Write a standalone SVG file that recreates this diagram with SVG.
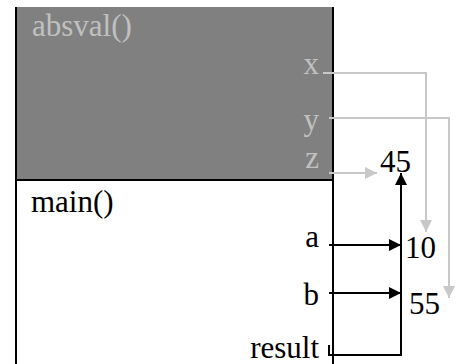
<svg xmlns="http://www.w3.org/2000/svg" width="466" height="364" viewBox="0 0 466 364">
<defs>
<style>
text{font-family:'Liberation Serif','Times New Roman',serif;font-size:31px}
.lt{fill:#c0c0c0}
.dk{fill:#000}
.r{text-anchor:end}
.g{stroke:#c8c8c8;stroke-width:2;fill:none}
.b{stroke:#000;stroke-width:2;fill:none}
</style>
<marker id="ag" markerWidth="12" markerHeight="12" refX="10" refY="5" orient="auto" markerUnits="userSpaceOnUse" viewBox="0 0 10 10">
<path d="M0,0 L10,5 L0,10 z" fill="#c8c8c8"/>
</marker>
<marker id="ab" markerWidth="12" markerHeight="12" refX="10" refY="5" orient="auto" markerUnits="userSpaceOnUse" viewBox="0 0 10 10">
<path d="M0,0 L10,5 L0,10 z" fill="#000"/>
</marker>
</defs>
<rect width="466" height="364" fill="#fff"/>
<g id="absval">
<rect x="16" y="7" width="317" height="173" fill="#808080"/>
<path d="M16,7 V180 H333 V7" class="b"/>
<text x="32" y="36" class="lt">absval()</text>
<text x="319" y="74" class="lt r">x</text>
<text x="319" y="130" class="lt r">y</text>
<text x="319" y="168" class="lt r">z</text>
</g>
<g id="main">
<path d="M16,180 V364 M333,180 V364" class="b"/>
<text x="31" y="212" class="dk">main()</text>
<text x="319" y="247" class="dk r">a</text>
<text x="319" y="305" class="dk r">b</text>
<text x="319" y="358" class="dk r">result</text>
</g>
<g id="values">
<text x="380" y="172" class="dk">45</text>
<text x="405" y="258" class="dk">10</text>
<text x="409" y="314" class="dk">55</text>
</g>
<g id="connectors">
<path d="M323,73 H426 V232" class="g" marker-end="url(#ag)"/>
<path d="M329,118 H449 V298" class="g" marker-end="url(#ag)"/>
<path d="M329,173 H377" class="g" marker-end="url(#ag)"/>
<path d="M329,245 H401" class="b" marker-end="url(#ab)"/>
<path d="M329,293 H401" class="b" marker-end="url(#ab)"/>
<path d="M329,345 V355 H401 V173" class="b" marker-end="url(#ab)"/>
</g>
</svg>
